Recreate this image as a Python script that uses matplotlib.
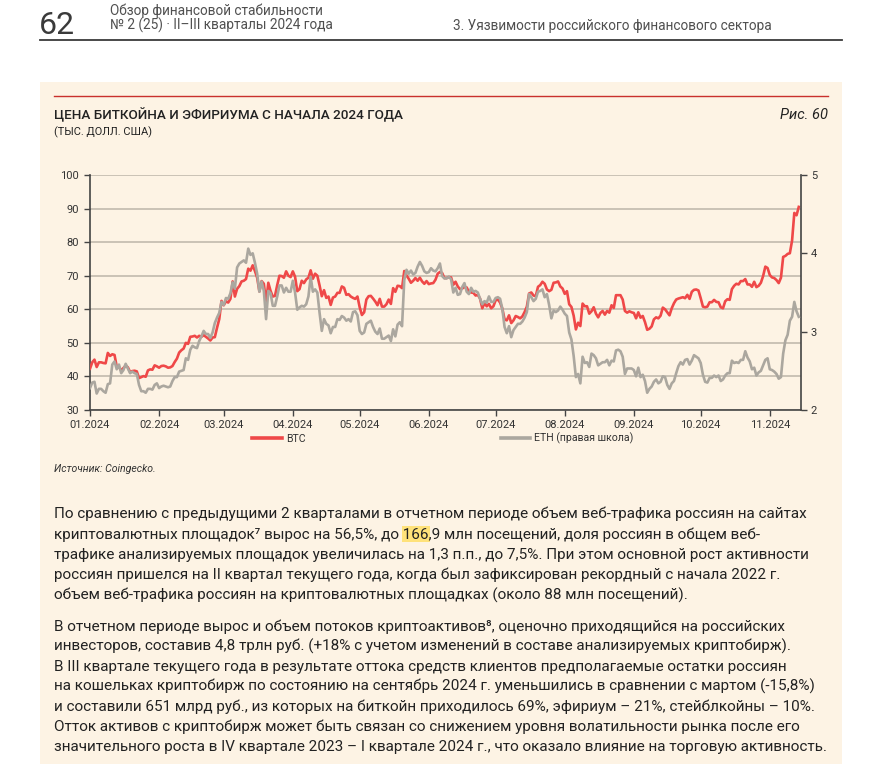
import matplotlib
matplotlib.use("Agg")
import matplotlib.pyplot as plt
import matplotlib.dates as mdates
from matplotlib.lines import Line2D
from matplotlib.patches import Rectangle
import pandas as pd

# ---------------- data (thousand USD, daily, from 01.01.2024) ----------------
btc = [
    42.3, 44.2, 45.0, 42.8, 44.2, 44.2, 44.0, 43.9, 47.0, 46.1, 46.6, 46.4, 42.9, 42.8, 41.8, 42.5,
    43.2, 42.7, 41.3, 41.6, 41.7, 41.5, 39.5, 39.8, 40.1, 39.9, 41.8, 42.1, 42.0, 43.3, 43.0,
    42.6, 43.1, 43.2, 43.0, 42.6, 42.7, 43.1, 44.3, 45.3, 47.1, 47.8, 48.3, 50.0, 49.7, 51.8,
    51.9, 52.1, 51.6, 52.1, 51.8, 52.3, 51.8, 51.3, 50.7, 51.6, 51.7, 54.5, 57.1, 62.5,
    61.2, 62.4, 62.0, 63.1, 68.3, 63.8, 66.1, 66.9, 68.3, 68.5, 69.0, 72.1, 71.5, 73.1, 71.4, 69.4,
    65.3, 68.4, 67.6, 62.0, 67.9, 65.5, 63.8, 64.0, 67.2, 70.0, 69.9, 69.4, 71.3, 70.0, 69.6,
    71.3, 69.7, 65.4, 66.0, 68.5, 67.8, 68.9, 69.4, 71.6, 69.1, 70.6, 70.0, 67.1, 63.9, 65.7,
    63.4, 63.8, 61.3, 63.5, 63.8, 64.9, 64.9, 66.8, 66.4, 64.3, 64.5, 63.8, 63.4, 63.1, 63.8,
    60.6, 58.3, 59.1, 62.9, 63.9, 64.0, 63.2, 62.3, 61.2, 63.1, 60.8, 60.8, 61.5, 62.9, 61.6, 66.3,
    65.2, 67.0, 66.9, 66.3, 71.4, 70.1, 69.1, 67.9, 68.5, 69.3, 68.5, 69.4, 68.3, 67.6, 68.4,
    67.5, 67.7, 67.8, 68.8, 70.6, 71.1, 70.8, 69.3, 69.3, 69.6, 69.5, 67.3, 68.2, 66.8, 66.0,
    66.2, 66.6, 66.5, 65.2, 65.0, 64.9, 64.1, 64.3, 63.2, 60.3, 61.8, 60.9, 61.6, 60.3, 60.9,
    62.7, 62.9, 62.0, 60.2, 57.0, 56.7, 58.2, 55.9, 56.7, 58.0, 57.7, 57.3, 57.9, 59.2, 60.8, 64.7,
    65.0, 64.1, 63.9, 66.7, 67.2, 68.2, 67.6, 65.9, 65.4, 65.8, 67.9, 68.0, 68.3, 66.8, 66.2,
    64.6, 65.4, 61.5, 60.7, 58.1, 54.0, 56.0, 55.0, 61.7, 60.9, 60.9, 58.7, 59.4, 60.6, 58.7, 57.6,
    58.9, 59.5, 58.4, 59.5, 59.0, 61.2, 60.4, 64.2, 64.2, 64.2, 62.9, 59.5, 59.0, 59.4, 59.1,
    58.9, 57.3, 59.1, 57.5, 58.0, 56.2, 53.9, 54.2, 54.9, 57.0, 57.6, 57.3, 58.1, 60.5, 60.0,
    59.1, 58.2, 60.3, 61.8, 62.9, 63.2, 63.4, 63.6, 63.3, 64.3, 63.1, 65.2, 65.8, 65.9, 65.6,
    63.3, 60.8, 60.6, 60.8, 62.1, 62.1, 62.8, 62.2, 62.1, 60.6, 60.3, 62.4, 63.0, 62.8, 66.0, 67.0,
    67.6, 67.4, 68.4, 68.4, 69.0, 67.4, 67.4, 66.7, 68.2, 66.6, 67.0, 67.9, 69.9, 72.7, 72.3,
    70.2, 69.5, 69.3, 68.7, 67.8, 69.4, 75.6, 75.9, 76.5, 76.7, 80.5, 88.7, 88.0, 90.5,
]
eth = [
    2.28, 2.35, 2.36, 2.21, 2.27, 2.27, 2.24, 2.22, 2.33, 2.34, 2.58, 2.62, 2.52, 2.58, 2.47, 2.51,
    2.59, 2.53, 2.47, 2.49, 2.47, 2.46, 2.32, 2.24, 2.24, 2.22, 2.27, 2.27, 2.26, 2.32, 2.34,
    2.28, 2.30, 2.31, 2.30, 2.29, 2.30, 2.37, 2.42, 2.42, 2.49, 2.50, 2.51, 2.66, 2.64, 2.77,
    2.82, 2.80, 2.79, 2.88, 2.94, 3.01, 2.97, 2.97, 2.92, 2.99, 3.11, 3.18, 3.24, 3.38,
    3.34, 3.43, 3.42, 3.49, 3.63, 3.55, 3.82, 3.87, 3.89, 3.91, 3.88, 4.06, 3.98, 4.00, 3.88, 3.74,
    3.51, 3.64, 3.52, 3.16, 3.52, 3.49, 3.33, 3.33, 3.45, 3.59, 3.59, 3.50, 3.56, 3.51, 3.51,
    3.65, 3.50, 3.28, 3.31, 3.33, 3.32, 3.35, 3.45, 3.70, 3.51, 3.54, 3.50, 3.24, 3.01, 3.16,
    3.10, 3.08, 2.98, 3.06, 3.06, 3.16, 3.15, 3.20, 3.18, 3.14, 3.16, 3.13, 3.25, 3.26, 3.21,
    3.01, 2.97, 2.99, 3.10, 3.12, 3.14, 3.06, 3.00, 2.97, 3.04, 2.91, 2.91, 2.93, 2.95, 2.88, 3.03,
    2.94, 3.09, 3.12, 3.07, 3.66, 3.79, 3.74, 3.78, 3.73, 3.75, 3.83, 3.89, 3.84, 3.77, 3.75,
    3.76, 3.81, 3.78, 3.77, 3.81, 3.87, 3.71, 3.68, 3.68, 3.70, 3.67, 3.50, 3.56, 3.47, 3.48,
    3.57, 3.62, 3.51, 3.48, 3.56, 3.51, 3.52, 3.50, 3.42, 3.35, 3.39, 3.37, 3.45, 3.38, 3.38,
    3.43, 3.44, 3.42, 3.29, 3.06, 2.98, 3.07, 2.93, 3.02, 3.06, 3.10, 3.10, 3.13, 3.18, 3.25, 3.48,
    3.44, 3.39, 3.42, 3.51, 3.52, 3.54, 3.44, 3.48, 3.34, 3.17, 3.27, 3.25, 3.27, 3.32, 3.28,
    3.23, 3.20, 2.99, 2.90, 2.69, 2.42, 2.46, 2.34, 2.68, 2.60, 2.61, 2.55, 2.72, 2.70, 2.66, 2.57,
    2.59, 2.61, 2.61, 2.64, 2.57, 2.63, 2.62, 2.76, 2.77, 2.75, 2.68, 2.46, 2.53, 2.53, 2.53,
    2.51, 2.43, 2.54, 2.42, 2.45, 2.37, 2.22, 2.27, 2.30, 2.36, 2.39, 2.34, 2.36, 2.43, 2.42,
    2.32, 2.27, 2.34, 2.37, 2.47, 2.56, 2.61, 2.58, 2.64, 2.65, 2.58, 2.63, 2.70, 2.68, 2.66,
    2.60, 2.45, 2.36, 2.35, 2.41, 2.41, 2.44, 2.42, 2.44, 2.37, 2.39, 2.44, 2.47, 2.47, 2.63, 2.60,
    2.61, 2.60, 2.64, 2.64, 2.75, 2.67, 2.62, 2.52, 2.54, 2.44, 2.48, 2.50, 2.57, 2.64, 2.66,
    2.52, 2.51, 2.49, 2.46, 2.40, 2.42, 2.72, 2.89, 2.96, 3.14, 3.19, 3.38, 3.26, 3.19,
]
start_date = "2024-01-01"
series_labels = ["BTC", "ETH (правая школа)"]
left_ticks = [30, 40, 50, 60, 70, 80, 90, 100]
right_ticks = [2, 3, 4, 5]
month_ticks = pd.date_range("2024-01-01", "2024-11-01", freq="MS")

title = "ЦЕНА БИТКОЙНА И ЭФИРИУМА С НАЧАЛА 2024 ГОДА"
subtitle = "(ТЫС. ДОЛЛ. США)"
fig_no = "Рис. 60"
source = "Источник: Coingecko."

para1 = [
    "По сравнению с предыдущими 2 кварталами в отчетном периоде объем веб-трафика россиян на сайтах",
    "криптовалютных площадок\u2077 вырос на 56,5%, до 166,9 млн посещений, доля россиян в общем веб-",
    "трафике анализируемых площадок увеличилась на 1,3 п.п., до 7,5%. При этом основной рост активности",
    "россиян пришелся на II квартал текущего года, когда был зафиксирован рекордный с начала 2022 г.",
    "объем веб-трафика россиян на криптовалютных площадках (около 88 млн посещений).",
]
para2 = [
    "В отчетном периоде вырос и объем потоков криптоактивов\u2078, оценочно приходящийся на российских",
    "инвесторов, составив 4,8 трлн руб. (+18% с учетом изменений в составе анализируемых криптобирж).",
    "В III квартале текущего года в результате оттока средств клиентов предполагаемые остатки россиян",
    "на кошельках криптобирж по состоянию на сентябрь 2024 г. уменьшились в сравнении с мартом (-15,8%)",
    "и составили 651 млрд руб., из которых на биткойн приходилось 69%, эфириум – 21%, стейблкойны – 10%.",
    "Отток активов с криптобирж может быть связан со снижением уровня волатильности рынка после его",
    "значительного роста в IV квартале 2023 – I квартале 2024 г., что оказало влияние на торговую активность.",
]
highlight_prefix = "криптовалютных площадок\u2077 вырос на 56,5%, до "
highlight_word = "166"

# ---------------- figure ----------------
W, H = 882, 764
plt.rcParams["font.family"] = ["Roboto", "DejaVu Sans"]
fig = plt.figure(figsize=(W / 100, H / 100), dpi=100)
fig.patch.set_facecolor("white")

def fx(x):
    return x / W

def fy(y):
    return 1 - y / H

FONT = ["Roboto", "DejaVu Sans"]
BEIGE = "#FDF3E4"
TXT = "#222222"
HDR = "#505050"

# header
fig.text(fx(39), fy(34), "62", fontsize=23, color="#3a3a3a", va="baseline")
fig.text(fx(110), fy(15), "Обзор финансовой стабильности", fontsize=9.8, color=HDR,
         va="baseline")
fig.text(fx(110), fy(30), "№ 2 (25) · II–III кварталы 2024 года", fontsize=9.8, color=HDR,
         va="baseline")
fig.text(fx(453), fy(30), "3. Уязвимости российского финансового сектора", fontsize=9.8,
         color=HDR, va="baseline")
fig.add_artist(Line2D([fx(40), fx(842)], [fy(40), fy(40)], color="#3a3a3a", lw=1.3))

# beige box
fig.add_artist(Rectangle((fx(40), 0), fx(842) - fx(40), fy(82), transform=fig.transFigure,
                         facecolor=BEIGE, edgecolor="none", zorder=0))
fig.add_artist(Line2D([fx(54), fx(828)], [fy(96), fy(96)], color="#C9302C", lw=1.0))

fig.text(fx(54), fy(119), title, fontsize=9.7, color="#222222", family=FONT,
         weight="medium", va="baseline")
fig.text(fx(54), fy(135), subtitle, fontsize=7.9, color="#222222", family=FONT, va="baseline")
fig.text(fx(828), fy(119), fig_no, fontsize=10.5, color="#222222", family=FONT,
         style="italic", ha="right", va="baseline")

# ---------------- chart ----------------
dates = pd.date_range(start_date, periods=len(btc), freq="D")
ax = fig.add_axes([fx(90), fy(410), fx(801) - fx(90), fy(175) - fy(410)])
ax.set_facecolor("none")
ax2 = ax.twinx()

RED = "#EF4848"
GRAY = "#ABA79F"
AXC = "#444444"
l1, = ax.plot(dates, btc, color=RED, lw=1.9, solid_joinstyle="round", zorder=3)
l2, = ax2.plot(dates, eth, color=GRAY, lw=1.9, solid_joinstyle="round", zorder=3)

ax.set_ylim(30, 100)
ax2.set_ylim(2, 5)
ax.set_xlim(pd.Timestamp(start_date), dates[-1] + pd.Timedelta(days=1))
ax.set_yticks(left_ticks)
ax2.set_yticks(right_ticks)
ax.set_xticks(month_ticks)
ax.xaxis.set_major_formatter(mdates.DateFormatter("%m.%Y"))

ax.yaxis.grid(True, color="#BDB5A9", lw=1.1)
ax.set_axisbelow(True)
for s in ["top", "right"]:
    ax.spines[s].set_visible(False)
for s in ["top", "left", "bottom"]:
    ax2.spines[s].set_visible(False)
for sp in [ax.spines["left"], ax.spines["bottom"], ax2.spines["right"]]:
    sp.set_color(AXC)
    sp.set_linewidth(1.2)

ax.tick_params(axis="both", direction="out", length=4, width=1, color=AXC,
               labelsize=8, labelcolor="#333333")
ax.tick_params(axis="y", pad=4)
ax.tick_params(axis="x", pad=3)
ax2.tick_params(axis="y", direction="out", length=4, width=1, color=AXC,
                labelsize=8, labelcolor="#333333", pad=3)

leg = fig.legend([l1, l2], series_labels, loc="upper left",
                 bbox_to_anchor=(fx(252), fy(433)), ncol=2, frameon=False,
                 handlelength=2.8, handletextpad=0.4, columnspacing=18.5,
                 borderpad=0, borderaxespad=0, prop=dict(family=FONT, size=7.6))
for t in leg.get_texts():
    t.set_color("#333333")
for h in leg.legend_handles:
    h.set_linewidth(2.6)

fig.text(fx(54), fy(472), source, fontsize=7.6, style="italic", color="#333333",
         family=FONT, va="baseline")

# ---------------- paragraphs ----------------
PSIZE = 11.02
pkw = dict(fontsize=PSIZE, color=TXT, va="baseline", family=FONT)
base1 = [518, 538.5, 559, 579.5, 600]
base2 = [631, 651, 671, 691, 711, 731, 751]
for b, line in zip(base1, para1):
    fig.text(fx(54), fy(b), line, **pkw)
for b, line in zip(base2, para2):
    fig.text(fx(54), fy(b), line, **pkw)

fig.canvas.draw()
renderer = fig.canvas.get_renderer()

def width_px(s):
    t = fig.text(0, 0, s, **pkw)
    w = t.get_window_extent(renderer).width
    t.remove()
    return w

w_all = width_px(highlight_prefix + highlight_word)
w_word = width_px(highlight_word)
x0 = 54 + w_all - w_word
fig.add_artist(Rectangle((fx(x0 - 1), fy(base1[1] + 3)), (w_word + 2) / W, 15.5 / H,
                         transform=fig.transFigure, facecolor="#FFE27A", edgecolor="none",
                         zorder=0.5))

fig.savefig("out.png", dpi=100, facecolor="white")
